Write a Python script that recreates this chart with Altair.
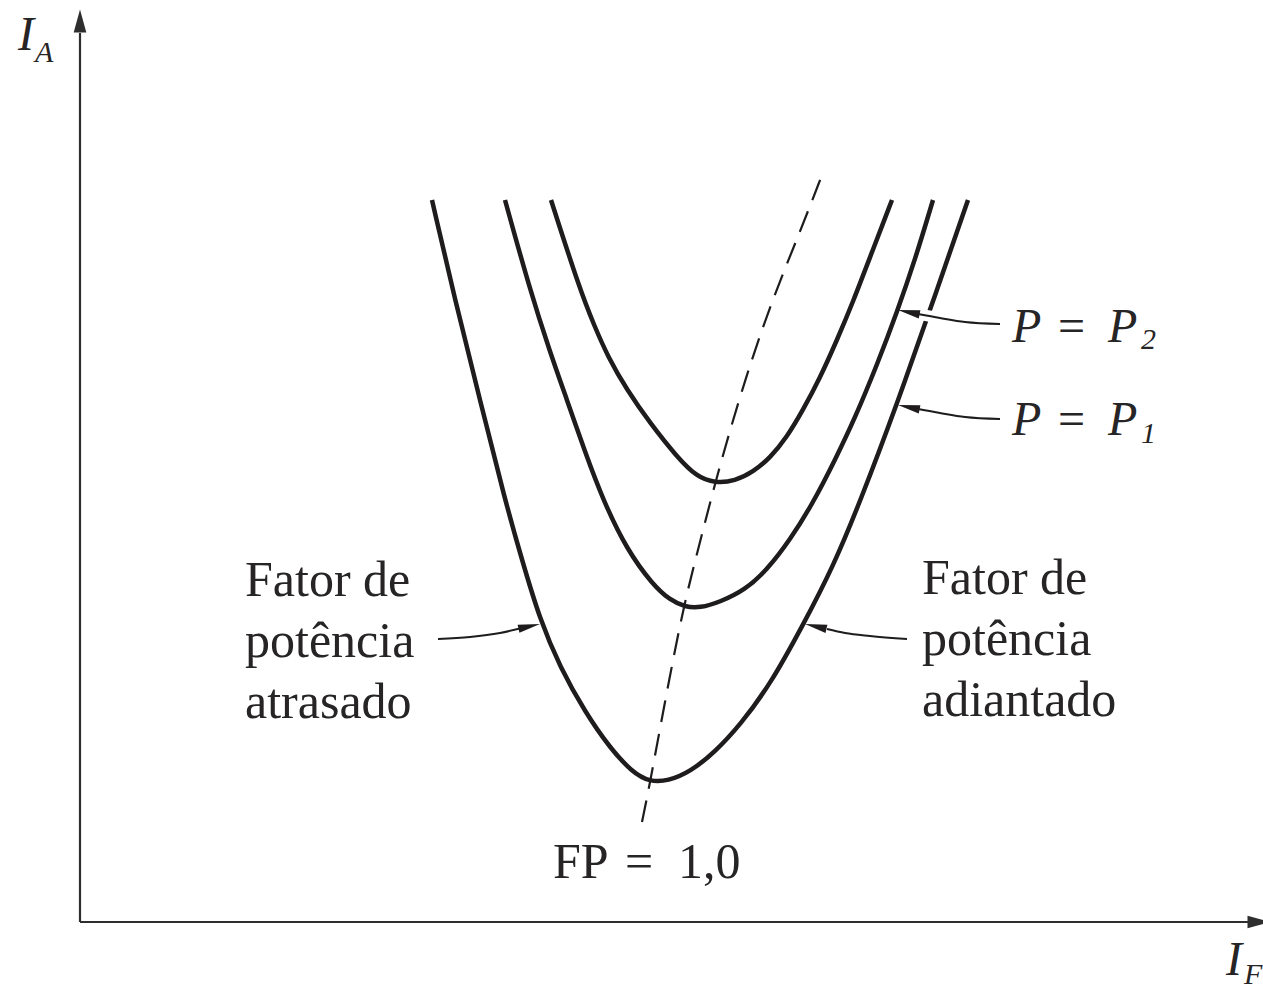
import math
import altair as alt
import pandas as pd

# V-curves of a synchronous motor: armature current I_A against field current I_F.
# Both axes use the same arbitrary unit, origin at the axes' corner.

# P = P1 (outer curve)
p1_if = [352, 375, 400, 425, 442, 460, 480, 505, 530, 552, 570, 588, 610, 635, 660, 690, 723, 753, 780, 817, 850, 888]
p1_ia = [722, 622, 522, 422, 362, 302, 255, 210, 174, 150, 140, 141, 150, 170, 197, 237, 297, 355, 420, 518, 612, 722]

# P = P2 (middle curve)
p2_if = [425, 450, 470, 487, 505, 523, 547, 573, 590, 605, 620, 640, 665, 687, 710, 733, 755, 775, 797, 817, 835, 853]
p2_ia = [722, 632, 570, 522, 470, 422, 372, 337, 322, 315, 314, 320, 332, 352, 382, 419, 462, 504, 557, 610, 662, 722]

# highest load (inner curve)
p3_if = [471, 500, 514, 528, 547, 570, 597, 617, 635, 655, 673, 690, 707, 723, 740, 757, 773, 792, 812]
p3_ia = [722, 632, 597, 565, 532, 499, 465, 445, 439, 441, 450, 464, 485, 512, 544, 582, 620, 670, 722]

# unity power factor locus through the minima
fp_if = [562, 570, 583, 603, 618, 635, 660, 690, 720, 742]
fp_ia = [100, 139, 210, 314, 372, 439, 527, 617, 690, 747]

INK = "#1e1c1d"
TEXT = "#262425"
FONT = "Liberation Serif"

curves = pd.concat(
    [
        pd.DataFrame({"IF": p1_if, "IA": p1_ia, "curve": "P1"}),
        pd.DataFrame({"IF": p2_if, "IA": p2_ia, "curve": "P2"}),
        pd.DataFrame({"IF": p3_if, "IA": p3_ia, "curve": "P3"}),
    ],
    ignore_index=True,
)
fp_line = pd.DataFrame({"IF": fp_if, "IA": fp_ia})

# annotation arrows: shaft points from tail towards the head, then the tip
arrows = {
    "atrasado": ([(358, 283), (390, 285), (420, 289), (442, 294)], (460, 298)),
    "adiantado": ([(827, 283), (790, 286), (765, 289), (747, 293)], (725, 298)),
    "P2": ([(920, 598), (885, 600), (860, 604), (838, 608)], (818, 612)),
    "P1": ([(920, 503), (885, 505), (860, 509), (838, 513)], (818, 517)),
}
HEAD_LEN = 22

shaft_rows, head_rows = [], []
for name, (pts, tip) in arrows.items():
    for i, (a, b) in enumerate(pts):
        shaft_rows.append({"arrow": name, "IF": a, "IA": b, "i": i})
    lx, ly = pts[-1]
    dx, dy = tip[0] - lx, tip[1] - ly
    n = math.hypot(dx, dy)
    ux, uy = dx / n, dy / n
    head_rows.append({
        "IF": tip[0] - ux * HEAD_LEN / 2,
        "IA": tip[1] - uy * HEAD_LEN / 2,
        "angle": math.degrees(math.atan2(-dy, dx)) % 360,
    })
shafts = pd.DataFrame(shaft_rows)
heads = pd.DataFrame(head_rows)

# axes with arrowheads
axis_lines = pd.DataFrame({"IF": [0, 0], "IA": [0, 0], "IF2": [1168, 0], "IA2": [0, 889]})
axis_heads = pd.DataFrame({"IF": [1179, 0], "IA": [0, 901], "angle": [0, 270]})

# text labels
upright = pd.DataFrame({
    "text": ["Fator de", "potência", "atrasado", "Fator de", "potência", "adiantado",
             "FP", "=", "1,0"],
    "IF": [165, 165, 165, 842, 842, 842, 473, 545, 598],
    "IA": [326, 265, 204, 328, 267, 206, 44, 44, 44],
})
equals = pd.DataFrame({"text": ["=", "="], "IF": [978, 978], "IA": [580, 487]})
italic_big = pd.DataFrame({
    "text": ["P", "P", "P", "P", "I", "I"],
    "IF": [932, 1028, 932, 1028, -62, 1146],
    "IA": [580, 580, 487, 487, 872, -53],
})
italic_small = pd.DataFrame({
    "text": ["2", "1", "A", "F"],
    "IF": [1061, 1061, -45, 1164],
    "IA": [573, 479, 860, -62],
})

xs = alt.Scale(domain=[-80, 1183], nice=False, zero=False)
ys = alt.Scale(domain=[-63, 922], nice=False, zero=False)
X = alt.X("IF:Q", scale=xs, axis=None)
Y = alt.Y("IA:Q", scale=ys, axis=None)

curve_layer = alt.Chart(curves).mark_line(
    color=INK, strokeWidth=4.5, interpolate="basis", strokeCap="butt"
).encode(x=X, y=Y, detail="curve:N")

fp_layer = alt.Chart(fp_line).mark_line(
    color=INK, strokeWidth=2.2, strokeDash=[22, 12], interpolate="basis"
).encode(x=X, y=Y)

halo_layer = alt.Chart(shafts[shafts["arrow"] == "P2"]).mark_line(
    color="white", strokeWidth=11, interpolate="monotone"
).encode(x=X, y=Y)

shaft_layer = alt.Chart(shafts).mark_line(
    color=INK, strokeWidth=2, interpolate="monotone"
).encode(x=X, y=Y, detail="arrow:N")

ARROW = "M-1,-0.38L1,0L-1,0.38Z"
head_layer = alt.Chart(heads).mark_point(
    shape=ARROW, filled=True, color=INK, opacity=1, size=HEAD_LEN ** 2, strokeWidth=0
).encode(x=X, y=Y, angle=alt.Angle("angle:Q", scale=None))

axis_layer = alt.Chart(axis_lines).mark_rule(color="#2e2e2e", strokeWidth=2.2).encode(
    x=X, y=Y, x2="IF2:Q", y2="IA2:Q"
)
axis_head_layer = alt.Chart(axis_heads).mark_point(
    shape="M-1,-0.55L1,0L-1,0.55Z", filled=True, color="#2e2e2e", opacity=1, size=529, strokeWidth=0
).encode(x=X, y=Y, angle=alt.Angle("angle:Q", scale=None))

text_common = dict(font=FONT, color=TEXT, baseline="alphabetic", align="left")
upright_layer = alt.Chart(upright).mark_text(fontSize=50, **text_common).encode(
    x=X, y=Y, text="text:N"
)
equals_layer = alt.Chart(equals).mark_text(fontSize=48, **text_common).encode(
    x=X, y=Y, text="text:N"
)
italic_big_layer = alt.Chart(italic_big).mark_text(
    fontSize=48, fontStyle="italic", **text_common
).encode(x=X, y=Y, text="text:N")
italic_small_layer = alt.Chart(italic_small).mark_text(
    fontSize=30, fontStyle="italic", **text_common
).encode(x=X, y=Y, text="text:N")

chart = alt.layer(
    curve_layer,
    fp_layer,
    halo_layer,
    shaft_layer,
    head_layer,
    axis_layer,
    axis_head_layer,
    upright_layer,
    equals_layer,
    italic_big_layer,
    italic_small_layer,
).properties(
    width=1263,
    height=985,
    autosize=alt.AutoSizeParams(type="none"),
    padding=0,
    background="white",
).configure_view(stroke=None)

chart.save("out.html", embed_options={"renderer": "svg", "actions": False})
